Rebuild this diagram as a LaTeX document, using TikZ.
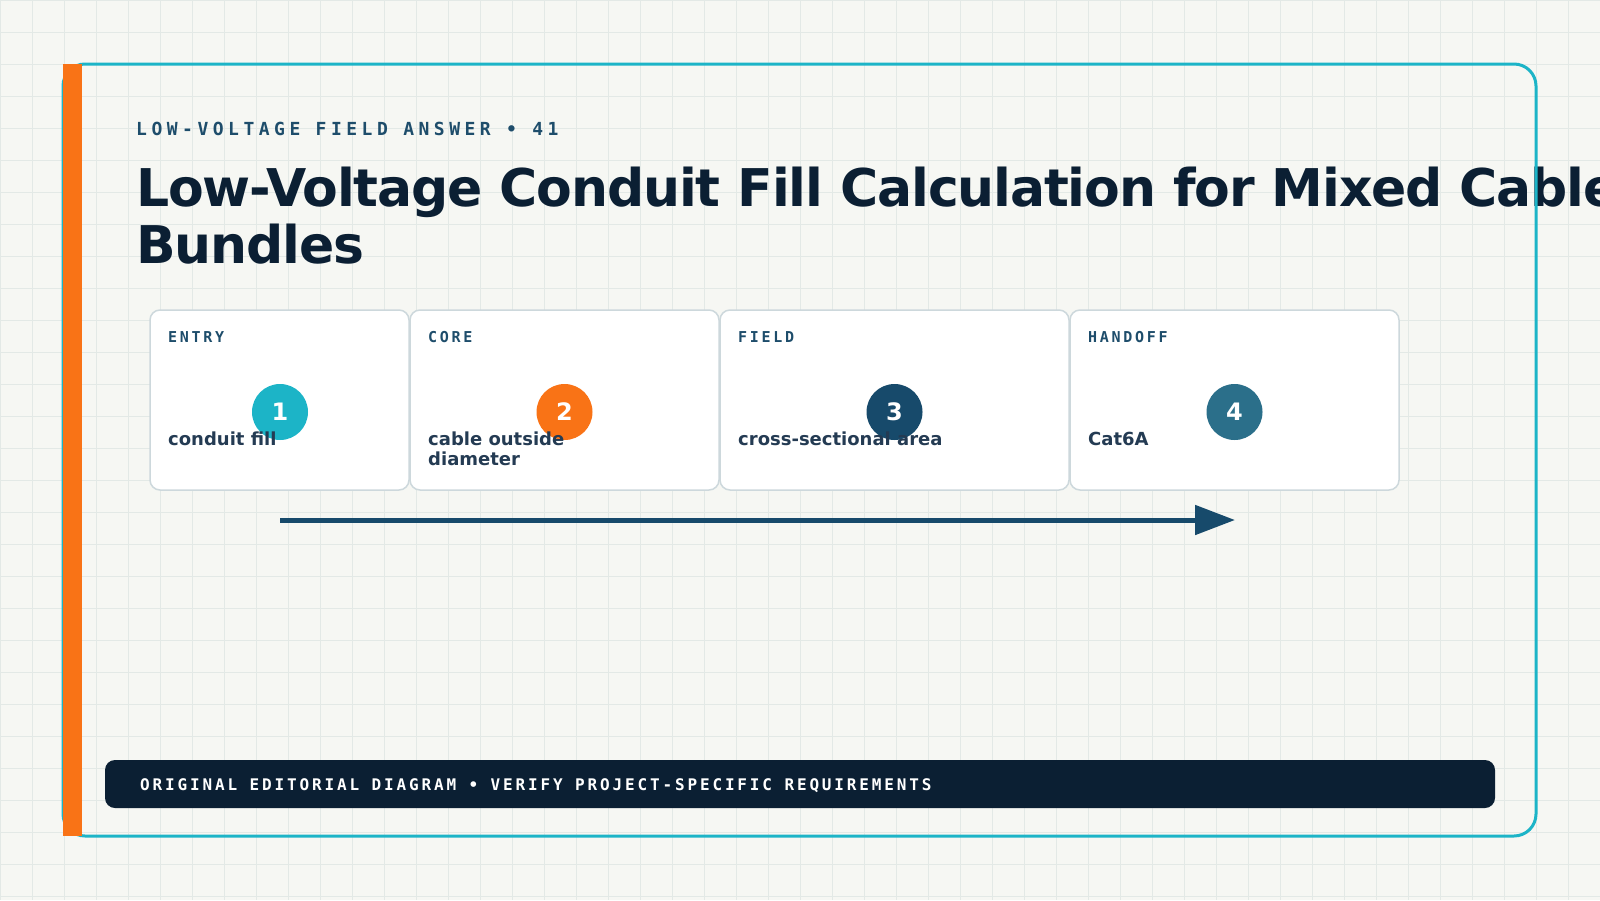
\documentclass[tikz,border=0pt]{standalone}
\usepackage{fontspec}
\setmainfont{DejaVu Sans}
\newfontfamily\titlefont[LetterSpace=-2.2]{DejaVu Sans}
\newfontfamily\kickfont[LetterSpace=25]{DejaVu Sans Mono}
\newfontfamily\labfont[LetterSpace=18]{DejaVu Sans Mono}
\newfontfamily\footfont[LetterSpace=17.8]{DejaVu Sans Mono}
\usetikzlibrary{arrows.meta}
\definecolor{bgc}{HTML}{F6F7F3}
\definecolor{gridc}{HTML}{E3E9E6}
\definecolor{tealc}{HTML}{1CB4C7}
\definecolor{orangec}{HTML}{F97316}
\definecolor{navyc}{HTML}{0B1F33}
\definecolor{deepc}{HTML}{174A6B}
\definecolor{steelc}{HTML}{2B6F8A}
\definecolor{labc}{HTML}{1E4D6B}
\definecolor{bodyc}{HTML}{243B53}
\definecolor{cardline}{HTML}{CDD8DC}
\tikzset{
  gridline/.style={gridc, line width=1pt},
  card/.style={draw=cardline, line width=1.5pt, fill=white, rounded corners=10pt},
  cardlab/.style={anchor=base west, inner sep=0pt, text=labc, font=\labfont\bfseries\fontsize{15}{18}\selectfont},
  cardtxt/.style={anchor=base west, inner sep=0pt, text=bodyc, align=left, font=\bfseries\fontsize{18}{20.7}\selectfont},
  badge/.style={circle, minimum size=56pt, inner sep=0pt, text=white, font=\bfseries\fontsize{24}{28}\selectfont},
}
\begin{document}
\begin{tikzpicture}[x=1pt,y=-1pt]
\useasboundingbox (0,0) rectangle (1600,900);
\clip (0,0) rectangle (1600,900);
\fill[bgc] (0,0) rectangle (1600,900);
\foreach \gx in {0,32,...,1600} {\draw[gridline] (\gx,0) -- (\gx,900);}
\foreach \gy in {0,32,...,900} {\draw[gridline] (0,\gy) -- (1600,\gy);}
% kicker and title
\node[anchor=base west, inner sep=0pt, text=labc, font=\kickfont\bfseries\fontsize{18}{22}\selectfont] (kick) at (136,135) {LOW-VOLTAGE FIELD ANSWER • 41};
\node[anchor=base west, inner sep=0pt, text=navyc, align=left, font=\titlefont\bfseries\fontsize{52}{57.3}\selectfont] (title) at (136,263.3) {Low-Voltage Conduit Fill Calculation for Mixed Cable\\Bundles};
% frame
\draw[tealc, line width=3pt, rounded corners=22pt] (63,64) rectangle (1536,836);
\fill[orangec] (63,64) rectangle (82,836);
% cards
\draw[card] (150,310) rectangle (409,490);
\draw[card] (410,310) rectangle (719,490);
\draw[card] (720,310) rectangle (1069,490);
\draw[card] (1070,310) rectangle (1399,490);
\node[cardlab] (l1) at (168,342) {ENTRY};
\node[cardlab] (l2) at (428,342) {CORE};
\node[cardlab] (l3) at (738,342) {FIELD};
\node[cardlab] (l4) at (1088,342) {HANDOFF};
\node[badge, fill=tealc] (c1) at (280,412) {1};
\node[badge, fill=orangec] (c2) at (564.5,412) {2};
\node[badge, fill=deepc] (c3) at (894.5,412) {3};
\node[badge, fill=steelc] (c4) at (1234.5,412) {4};
\node[cardtxt] (t1) at (168,445) {conduit fill};
\node[cardtxt] (t2) at (428,465.7) {cable outside\\diameter};
\node[cardtxt] (t3) at (738,445) {cross-sectional area};
\node[cardtxt] (t4) at (1088,445) {Cat6A};
% arrow
\coordinate (as) at (280,520);
\coordinate (ae) at (1235,520);
\draw[deepc, line width=5pt, -{Triangle[length=40pt,width=29pt]}] (as) -- (ae);
% footer
\fill[navyc, rounded corners=10pt] (105,760) rectangle (1495,808);
\node[anchor=base west, inner sep=0pt, text=white, font=\footfont\bfseries\fontsize{16}{20}\selectfont] (foot) at (140,790.7) {ORIGINAL EDITORIAL DIAGRAM • VERIFY PROJECT-SPECIFIC REQUIREMENTS};
\end{tikzpicture}
\end{document}
